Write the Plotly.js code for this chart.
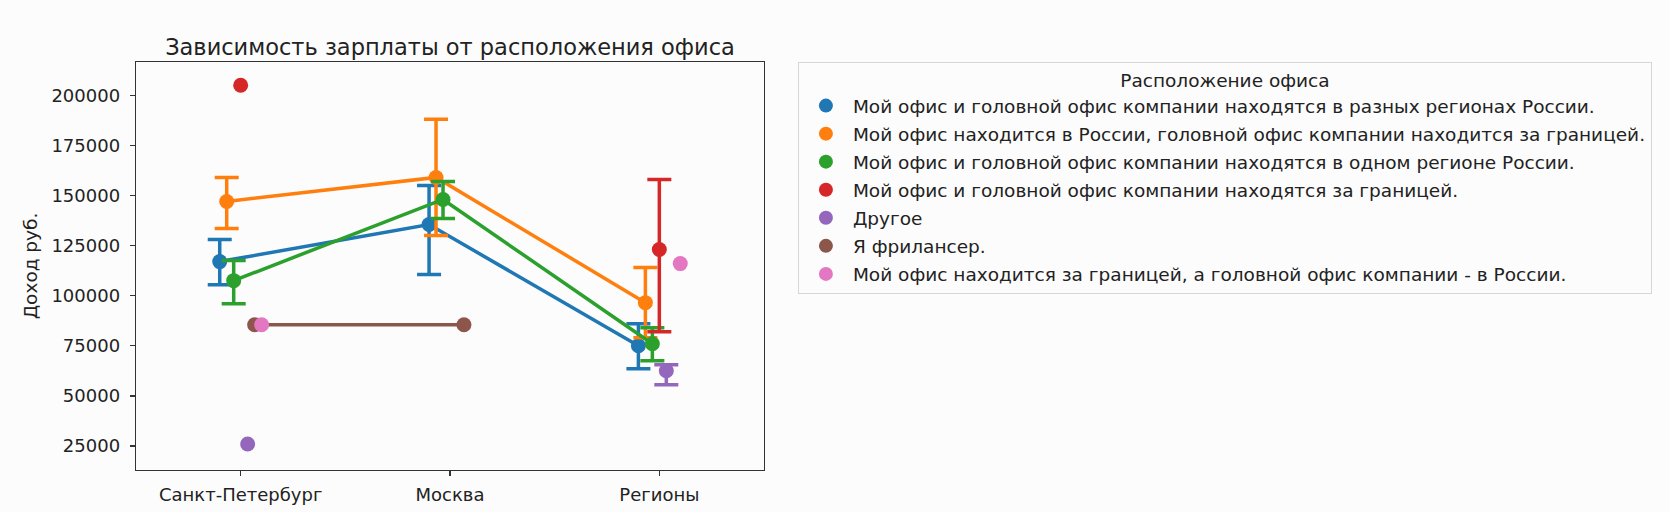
<!DOCTYPE html>
<html>
<head>
<meta charset="utf-8">
<script src="https://cdn.plot.ly/plotly-3.0.1.min.js"></script>
<style>
  body { margin: 0; background: #fcfcfc; }
  #salaryPlot { width: 1670px; height: 512px; }
</style>
</head>
<body>
<div id="salaryPlot"></div>
<script>
// категории по оси X
var cities = ["Санкт-Петербург", "Москва", "Регионы"];

// расположение офиса (hue)
var offices = [
    "Мой офис и головной офис компании находятся в разных регионах России.",
    "Мой офис находится в России, головной офис компании находится за границей.",
    "Мой офис и головной офис компании находятся в одном регионе России.",
    "Мой офис и головной офис компании находятся за границей.",
    "Другое",
    "Я фрилансер.",
    "Мой офис находится за границей, а головной офис компании - в России."
];
var colors = ["#1f77b4", "#ff7f0e", "#2ca02c", "#d62728", "#9467bd", "#8c564b", "#e377c2"];

// средний доход по городам, для каждого расположения офиса
var meanDiffRegions = [117000, 135500, 75000];
var meanHqAbroad    = [147000, 159000, 96500];
var meanSameRegion  = [107500, 148000, 76000];
var meanAllAbroad   = [205000, null, 123000];
var meanOther       = [26000, null, 62500];
var meanFreelance   = [85500, 85500, null];
var meanOfficeAbroad = [85500, null, 116000];

// доверительные интервалы (верх / низ)
var hiDiffRegions = [128000, 155000, 86000];
var loDiffRegions = [105500, 110500, 63500];
var hiHqAbroad    = [159000, 188000, 114000];
var loHqAbroad    = [133500, 130000, 79000];
var hiSameRegion  = [117500, 157000, 84000];
var loSameRegion  = [96000, 138500, 67500];
var hiAllAbroad   = [null, null, 158000];
var loAllAbroad   = [null, null, 82000];
var hiOther       = [null, null, 65500];
var loOther       = [null, null, 55500];
var hiFreelance   = [null, null, null];
var loFreelance   = [null, null, null];
var hiOfficeAbroad = [null, null, null];
var loOfficeAbroad = [null, null, null];

var yTicks = [25000, 50000, 75000, 100000, 125000, 150000, 175000, 200000];

var means = [meanDiffRegions, meanHqAbroad, meanSameRegion, meanAllAbroad, meanOther, meanFreelance, meanOfficeAbroad];
var highs = [hiDiffRegions, hiHqAbroad, hiSameRegion, hiAllAbroad, hiOther, hiFreelance, hiOfficeAbroad];
var lows  = [loDiffRegions, loHqAbroad, loSameRegion, loAllAbroad, loOther, loFreelance, loOfficeAbroad];

var dodge = 0.2;
var traces = [];

offices.forEach(function (name, i) {
    var shift = -dodge / 2 + dodge * i / (offices.length - 1);
    var xs = cities.map(function (c, k) { return k + shift; });
    var up = means[i].map(function (m, k) { return (m != null && highs[i][k] != null) ? highs[i][k] - m : NaN; });
    var down = means[i].map(function (m, k) { return (m != null && lows[i][k] != null) ? m - lows[i][k] : NaN; });
    traces.push({
        x: xs,
        y: means[i],
        type: "scatter",
        mode: "lines+markers",
        connectgaps: false,
        showlegend: false,
        line: { color: colors[i], width: 3.5 },
        marker: { color: colors[i], size: 15 },
        error_y: {
            type: "data", symmetric: false,
            array: up, arrayminus: down,
            color: colors[i], thickness: 3.5, width: 12
        },
        hoverinfo: "y"
    });
});

// отдельные элементы легенды (только кружок, как в seaborn)
offices.forEach(function (name, i) {
    traces.push({
        x: [null], y: [null],
        type: "scatter", mode: "markers",
        name: name,
        legendgroup: "g" + i,
        marker: { color: colors[i], size: 14 }
    });
});

var layout = {
    width: 1670,
    height: 512,
    paper_bgcolor: "#fcfcfc",
    plot_bgcolor: "#fcfcfc",
    font: { family: "DejaVu Sans", size: 18, color: "#222" },
    margin: { l: 136, r: 906, t: 62, b: 42, pad: 0 },
    title: {
        text: "Зависимость зарплаты от расположения офиса",
        font: { size: 22.5, color: "#222" },
        x: 0.5, xref: "paper", xanchor: "center",
        y: 1, yref: "paper", yanchor: "bottom", pad: { b: 7 }
    },
    xaxis: {
        range: [-0.5, 2.5],
        tickvals: [0, 1, 2],
        ticktext: cities,
        ticks: "outside", ticklen: 5, tickcolor: "#333", tickwidth: 1.3,
        showline: true, linecolor: "#333", linewidth: 1.3, mirror: true,
        showgrid: false, zeroline: false,
        ticklabelstandoff: 3
    },
    yaxis: {
        range: [13000, 216600],
        tickvals: yTicks,
        tickformat: "d",
        ticks: "outside", ticklen: 5, tickcolor: "#333", tickwidth: 1.3,
        showline: true, linecolor: "#333", linewidth: 1.3, mirror: true,
        showgrid: false, zeroline: false,
        ticklabelstandoff: 6,
        title: { text: "Доход руб.", standoff: 9, font: { size: 18.5 } },
        automargin: false
    },
    legend: {
        x: 1.054, xanchor: "left",
        y: 1, yanchor: "top",
        bgcolor: "#fcfcfc",
        bordercolor: "#d6d6d6", borderwidth: 1,
        font: { size: 18.5, color: "#222" },
        itemwidth: 44,
        traceorder: "grouped",
        tracegroupgap: 1,
        title: { text: "Расположение офиса", side: "top center", font: { size: 18.5 } },
        itemclick: false
    },
    showlegend: true
};

Plotly.newPlot(document.getElementById("salaryPlot"), traces, layout, { displayModeBar: false, staticPlot: true });
</script>
</body>
</html>
